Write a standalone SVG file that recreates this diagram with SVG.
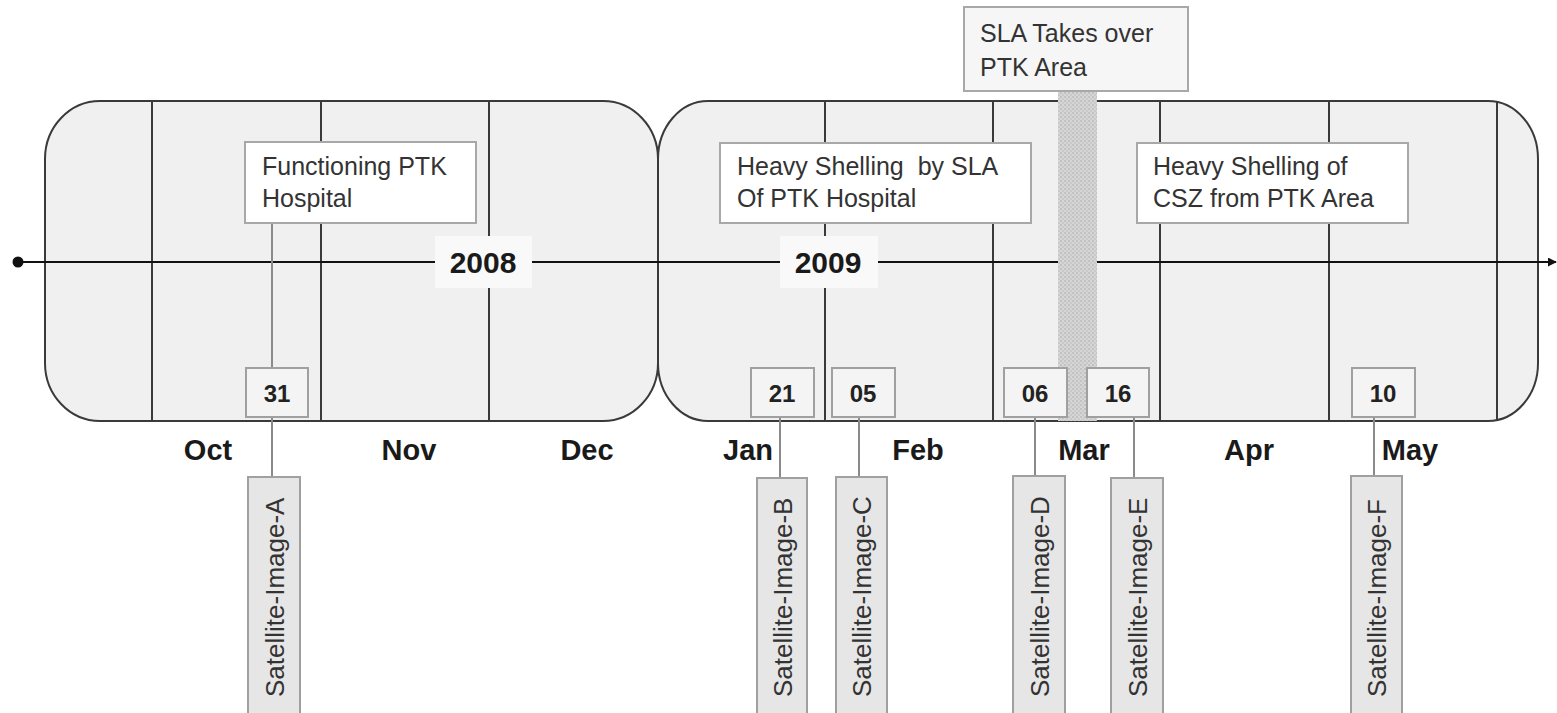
<svg xmlns="http://www.w3.org/2000/svg" width="1557" height="713" viewBox="0 0 1557 713">
<style>
.pane{fill:#f0f0f0;stroke:#3a3a3a;stroke-width:2}
.mline{stroke:#3a3a3a;stroke-width:2}
.ev{fill:#ffffff;stroke:#a8a8a8;stroke-width:2}
.evt{font-family:"Liberation Sans",Arial,sans-serif;font-size:25px;fill:#333}
.date{fill:#f4f4f4;stroke:#a0a0a0;stroke-width:2}
.datet{font-family:"Liberation Sans",Arial,sans-serif;font-size:24px;font-weight:bold;fill:#222;text-anchor:middle}
.mon{font-family:"Liberation Sans",Arial,sans-serif;font-size:29px;font-weight:bold;fill:#1a1a1a;text-anchor:middle}
.yr{font-family:"Liberation Sans",Arial,sans-serif;font-size:30px;font-weight:bold;fill:#1a1a1a;text-anchor:middle}
.sat{fill:#e6e6e6;stroke:#a0a0a0;stroke-width:2}
.satt{font-family:"Liberation Sans",Arial,sans-serif;font-size:26px;fill:#333}
.conn{stroke:#8a8a8a;stroke-width:2;fill:none}
</style>
<defs>
<pattern id="dots" width="4" height="4" patternUnits="userSpaceOnUse">
<rect width="4" height="4" fill="#d6d6d6"/>
<circle cx="1" cy="1" r="0.8" fill="#a9a9a9"/>
<circle cx="3" cy="3" r="0.8" fill="#b8b8b8"/>
</pattern>
<marker id="arr" viewBox="0 0 10 10" refX="9" refY="5" markerWidth="4.5" markerHeight="4.5" orient="auto">
<path d="M0,0 L10,5 L0,10 z" fill="#111"/>
</marker>
</defs>
<rect width="1557" height="713" fill="#ffffff"/>

<g id="pane-2008">
<rect class="pane" x="45" y="101" width="613" height="320" rx="55" ry="58"/>
<line class="mline" x1="152" y1="101" x2="152" y2="421"/>
<line class="mline" x1="321" y1="101" x2="321" y2="421"/>
<line class="mline" x1="489" y1="101" x2="489" y2="421"/>
</g>
<g id="pane-2009">
<rect class="pane" x="658" y="101" width="880" height="320" rx="50" ry="58"/>
<line class="mline" x1="825" y1="101" x2="825" y2="421"/>
<line class="mline" x1="993" y1="101" x2="993" y2="421"/>
<line class="mline" x1="1160" y1="101" x2="1160" y2="421"/>
<line class="mline" x1="1329" y1="101" x2="1329" y2="421"/>
<line class="mline" x1="1497" y1="101" x2="1497" y2="421"/>
</g>

<g id="timeline">
<line x1="18" y1="262" x2="1556" y2="262" stroke="#111" stroke-width="2" marker-end="url(#arr)"/>
<circle cx="18" cy="262" r="5.5" fill="#111"/>
</g>

<g id="year-2008">
<rect x="435" y="236" width="97" height="52" fill="#f9f9f9"/>
<text class="yr" x="483" y="273">2008</text>
</g>
<g id="year-2009">
<rect x="780" y="236" width="98" height="52" fill="#f9f9f9"/>
<text class="yr" x="828" y="273">2009</text>
</g>

<g id="sla-band">
<rect x="1058" y="91" width="39" height="330" fill="url(#dots)"/>
</g>

<g id="connectors">
<line class="conn" x1="272" y1="223" x2="272" y2="368"/>
<line class="conn" x1="272" y1="417" x2="272" y2="477"/>
<line class="conn" x1="780" y1="417" x2="780" y2="478"/>
<line class="conn" x1="859" y1="417" x2="859" y2="477"/>
<line class="conn" x1="1035" y1="417" x2="1035" y2="476"/>
<line class="conn" x1="1134" y1="417" x2="1134" y2="478"/>
<line class="conn" x1="1374" y1="417" x2="1374" y2="476"/>
</g>

<g id="event-functioning">
<rect class="ev" x="245" y="142" width="231" height="81"/>
<text class="evt" x="262" y="175">Functioning PTK</text>
<text class="evt" x="262" y="207">Hospital</text>
</g>
<g id="event-shelling-sla">
<rect class="ev" x="720" y="143" width="311" height="80"/>
<text class="evt" x="737" y="175" xml:space="preserve">Heavy Shelling  by SLA</text>
<text class="evt" x="737" y="207">Of PTK Hospital</text>
</g>
<g id="event-takeover">
<rect class="ev" x="964" y="7" width="224" height="84" style="fill:#f6f6f6"/>
<text class="evt" x="980" y="42">SLA Takes over</text>
<text class="evt" x="980" y="76">PTK Area</text>
</g>
<g id="event-shelling-csz">
<rect class="ev" x="1137" y="143" width="271" height="80"/>
<text class="evt" x="1153" y="175">Heavy Shelling of</text>
<text class="evt" x="1153" y="207">CSZ from PTK Area</text>
</g>

<g id="date-31"><rect class="date" x="246" y="368" width="62" height="49"/><text class="datet" x="277" y="402">31</text></g>
<g id="date-21"><rect class="date" x="751" y="368" width="63" height="49"/><text class="datet" x="782" y="402">21</text></g>
<g id="date-05"><rect class="date" x="832" y="368" width="63" height="49"/><text class="datet" x="863" y="402">05</text></g>
<g id="date-06"><rect class="date" x="1004" y="368" width="63" height="49"/><text class="datet" x="1035" y="402">06</text></g>
<g id="date-16"><rect class="date" x="1087" y="368" width="62" height="49"/><text class="datet" x="1118" y="402">16</text></g>
<g id="date-10"><rect class="date" x="1352" y="368" width="63" height="49"/><text class="datet" x="1383" y="402">10</text></g>

<g id="months">
<text class="mon" x="208" y="460">Oct</text>
<text class="mon" x="409" y="460">Nov</text>
<text class="mon" x="587" y="460">Dec</text>
<text class="mon" x="748" y="460">Jan</text>
<text class="mon" x="918" y="460">Feb</text>
<text class="mon" x="1084" y="460">Mar</text>
<text class="mon" x="1249" y="460">Apr</text>
<text class="mon" x="1410" y="460">May</text>
</g>

<g id="sat-A"><rect class="sat" x="248" y="477" width="52" height="250"/><text class="satt" transform="translate(284,697) rotate(-90)">Satellite-Image-A</text></g>
<g id="sat-B"><rect class="sat" x="757" y="478" width="50" height="250"/><text class="satt" transform="translate(792,697) rotate(-90)">Satellite-Image-B</text></g>
<g id="sat-C"><rect class="sat" x="836" y="477" width="51" height="250"/><text class="satt" transform="translate(871,697) rotate(-90)">Satellite-Image-C</text></g>
<g id="sat-D"><rect class="sat" x="1013" y="476" width="52" height="250"/><text class="satt" transform="translate(1049,697) rotate(-90)">Satellite-Image-D</text></g>
<g id="sat-E"><rect class="sat" x="1111" y="478" width="52" height="250"/><text class="satt" transform="translate(1147,697) rotate(-90)">Satellite-Image-E</text></g>
<g id="sat-F"><rect class="sat" x="1351" y="476" width="51" height="250"/><text class="satt" transform="translate(1386,697) rotate(-90)">Satellite-Image-F</text></g>
</svg>
